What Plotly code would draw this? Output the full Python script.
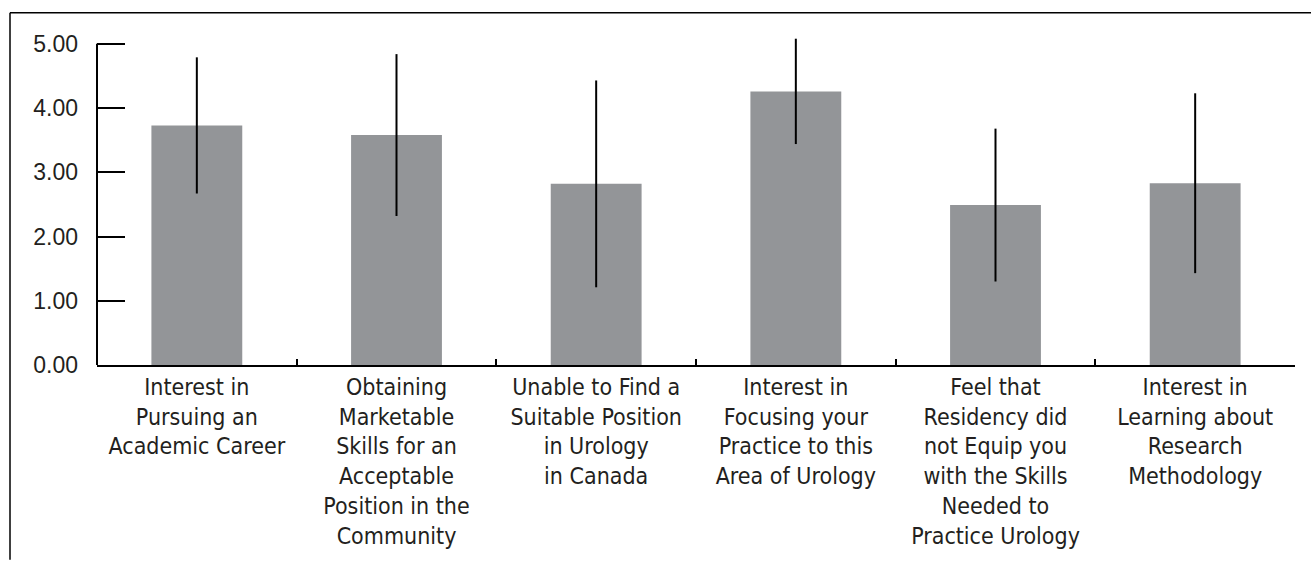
import plotly.graph_objects as go

# Survey items (x-axis categories), mean scores and standard deviations
categories = [
    "Interest in<br>Pursuing an<br>Academic Career",
    "Obtaining<br>Marketable<br>Skills for an<br>Acceptable<br>Position in the<br>Community",
    "Unable to Find a<br>Suitable Position<br>in Urology<br>in Canada",
    "Interest in<br>Focusing your<br>Practice to this<br>Area of Urology",
    "Feel that<br>Residency did<br>not Equip you<br>with the Skills<br>Needed to<br>Practice Urology",
    "Interest in<br>Learning about<br>Research<br>Methodology",
]
mean_scores = [3.73, 3.58, 2.82, 4.26, 2.49, 2.83]
std_devs = [1.06, 1.26, 1.61, 0.82, 1.19, 1.40]
y_ticks = [0, 1, 2, 3, 4, 5]

W, H = 1311, 561
ML, MR, MT, MB = 97, 16, 31, 192
Y_MAX = 5.2

fig = go.Figure(
    go.Bar(
        x=categories,
        y=mean_scores,
        marker=dict(color="#939598", line=dict(width=0)),
        error_y=dict(type="data", array=std_devs, visible=True,
                     color="black", thickness=2, width=0),
        width=0.455,
    )
)

plot_w = W - ML - MR
plot_h = H - MT - MB


def px_x(px):
    return (px - ML) / plot_w


def px_y(py):
    return (H - MB - py) / plot_h


shapes = [
    # y-axis line from 0 to 5
    dict(type="line", xref="paper", yref="y", x0=0, x1=0, y0=0, y1=5,
         line=dict(color="black", width=2)),
    # outer frame: top and left edges
    dict(type="line", xref="paper", yref="paper", x0=px_x(10), x1=px_x(W + 5),
         y0=px_y(12.5), y1=px_y(12.5), line=dict(color="black", width=1.5)),
    dict(type="line", xref="paper", yref="paper", x0=px_x(10), x1=px_x(10),
         y0=px_y(12.5), y1=px_y(H + 5), line=dict(color="black", width=1.5)),
]

fig.update_layout(
    width=W, height=H,
    margin=dict(l=ML, r=MR, t=MT, b=MB, pad=0),
    paper_bgcolor="white", plot_bgcolor="white",
    showlegend=False,
    shapes=shapes,
    font=dict(family="Liberation Sans, Arial, sans-serif", color="#231f20"),
    xaxis=dict(
        type="category", tickson="boundaries", ticks="inside", ticklen=6,
        tickwidth=2, tickcolor="black", showline=True, linewidth=2,
        linecolor="black", showgrid=False, zeroline=False,
        tickfont=dict(family="Liberation Sans Narrow, Arial Narrow, DejaVu Sans Condensed, sans-serif",
                      size=23, color="#231f20"),
        range=[-0.5, 5.5],
    ),
    yaxis=dict(
        range=[0, Y_MAX], tickvals=y_ticks, tickformat=".2f",
        ticks="inside", ticklen=28, tickwidth=2, tickcolor="black",
        showline=False, showgrid=False, zeroline=False,
        ticklabelstandoff=18,
        tickfont=dict(family="Liberation Sans, Arial, sans-serif", size=23, color="#231f20"),
    ),
)

fig.write_html("out.html")
